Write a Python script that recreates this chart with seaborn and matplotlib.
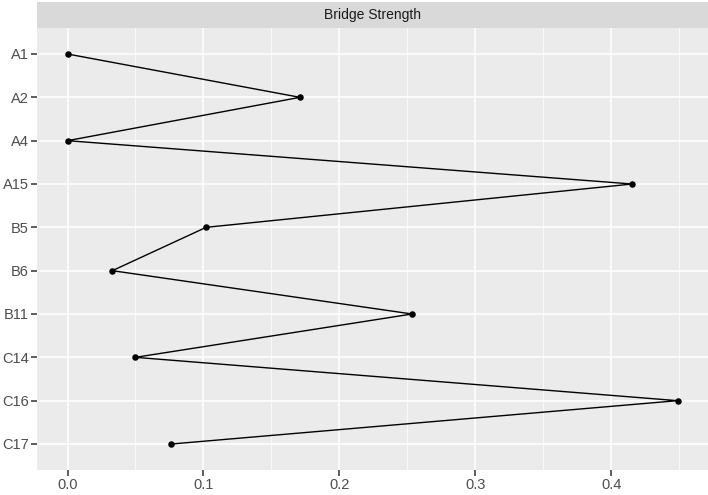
import numpy as np
import pandas as pd
import matplotlib.pyplot as plt
import seaborn as sns
from matplotlib.patches import Rectangle

nodes = ['A1', 'A2', 'A4', 'A15', 'B5', 'B6', 'B11', 'C14', 'C16', 'C17']
strength = [0.0, 0.171, 0.0, 0.4155, 0.102, 0.033, 0.2535, 0.050, 0.4488, 0.0765]
panel_title = 'Bridge Strength'

df = pd.DataFrame({'node': nodes, 'value': strength})
df['pos'] = np.arange(len(nodes))

sns.set_theme(style='darkgrid', rc={
    'axes.facecolor': '#EBEBEB',
    'grid.color': 'white',
    'axes.edgecolor': 'none',
})
plt.rcParams['font.family'] = ['Liberation Sans', 'DejaVu Sans']

fig = plt.figure(figsize=(7.08, 4.95), dpi=100)
W, H = 708, 495
ax = fig.add_axes([37 / W, (H - 470) / H, (708 - 37) / W, (470 - 28) / H])

sns.lineplot(data=df, x='value', y='pos', sort=False, orient='y', estimator=None,
             color='black', linewidth=1.0, ax=ax)
sns.scatterplot(data=df, x='value', y='pos', color='black', s=22, edgecolor='black',
                linewidth=0, ax=ax, zorder=3)

xmax = df['value'].max()
pad = xmax * 0.05
ax.set_xlim(-pad, xmax + pad)
ax.set_ylim(len(nodes) - 0.4, -0.6)
ax.set_yticks(df['pos'])
ax.set_yticklabels(nodes)
ax.set_xticks([0.0, 0.1, 0.2, 0.3, 0.4])
ax.set_xticklabels(['0.0', '0.1', '0.2', '0.3', '0.4'])
ax.set_xticks([0.05, 0.15, 0.25, 0.35, 0.45], minor=True)
ax.grid(which='major', color='white', linewidth=1.1)
ax.grid(which='minor', axis='x', color='white', linewidth=0.55)
# darkgrid hides tick marks; ggplot shows short dark ones
ax.tick_params(which='major', direction='out', length=4, width=1.1, color='#333333',
               labelcolor='#4D4D4D', labelsize=10.5, pad=2, bottom=True, left=True)
ax.tick_params(which='minor', length=0)
ax.set_xlabel('')
ax.set_ylabel('')
for s in ax.spines.values():
    s.set_visible(False)

# facet strip
fig.patches.append(Rectangle((37 / W, (H - 28) / H), (708 - 37) / W, 26 / H,
                             transform=fig.transFigure, facecolor='#D9D9D9',
                             edgecolor='none'))
fig.text((37 + 708) / 2 / W, (H - 15) / H, panel_title, ha='center', va='center',
         fontsize=10, color='#1A1A1A')

fig.savefig('out.png', dpi=100)
